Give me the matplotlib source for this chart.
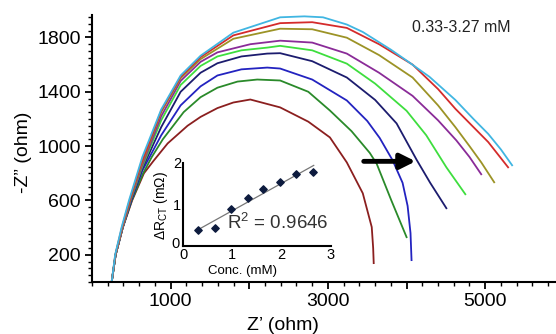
import numpy as np
import matplotlib
matplotlib.use('Agg')
import matplotlib.pyplot as plt
from matplotlib.ticker import MultipleLocator, FixedLocator

plt.rcParams['font.family'] = ['Liberation Sans', 'DejaVu Sans']

# Nyquist curves, lowest to highest concentration
colors = ['#8b1f1f', '#2a8a2a', '#2323c0', '#1c1c6e', '#3ede3e',
          '#8a2b98', '#9c9326', '#d42b2b', '#40b6e2']

zx1 = [250, 300, 390, 510, 660, 780, 962, 1215, 1380, 1595, 1797, 2013, 2392, 2750, 3025, 3240, 3443, 3557, 3575, 3582]
zy1 = [0, 200, 400, 600, 800, 890, 1020, 1150, 1215, 1280, 1321, 1343, 1285, 1180, 1064, 880, 653, 404, 250, 139]

zx2 = [250, 300, 390, 505, 650, 760, 900, 1165, 1380, 1595, 1850, 2101, 2392, 2750, 3025, 3300, 3532, 3620, 3805, 4000]
zy2 = [0, 200, 400, 600, 800, 920, 1050, 1250, 1360, 1430, 1475, 1490, 1483, 1400, 1262, 1110, 950, 870, 602, 330]

zx3 = [250, 300, 390, 500, 640, 880, 1127, 1380, 1595, 1900, 2228, 2392, 2800, 3240, 3500, 3658, 3823, 3949, 4013, 4050, 4063]
zy3 = [0, 200, 400, 600, 820, 1080, 1300, 1440, 1520, 1565, 1578, 1571, 1490, 1336, 1185, 1060, 895, 730, 560, 360, 161]

zx4 = [250, 300, 390, 495, 635, 880, 1127, 1380, 1595, 1900, 2228, 2392, 2800, 3240, 3600, 3873, 4127, 4300, 4506]
zy4 = [0, 200, 400, 600, 830, 1140, 1400, 1540, 1610, 1660, 1681, 1684, 1625, 1505, 1340, 1167, 900, 730, 543]

zx5 = [250, 300, 390, 490, 630, 880, 1127, 1380, 1595, 1900, 2228, 2392, 2800, 3240, 3600, 4000, 4250, 4506, 4747]
zy5 = [0, 200, 400, 600, 835, 1190, 1450, 1590, 1660, 1705, 1725, 1738, 1705, 1607, 1460, 1260, 1080, 844, 646]

zx6 = [250, 300, 390, 488, 625, 880, 1127, 1380, 1595, 2013, 2392, 2800, 3240, 3650, 4076, 4400, 4633, 4800, 4949]
zy6 = [0, 200, 400, 600, 840, 1220, 1480, 1620, 1690, 1750, 1776, 1762, 1681, 1540, 1370, 1190, 1042, 920, 793]

zx7 = [250, 298, 385, 483, 620, 880, 1127, 1380, 1797, 2392, 2800, 3240, 3650, 4076, 4400, 4620, 4800, 4950, 5114]
zy7 = [0, 200, 400, 600, 850, 1250, 1500, 1640, 1790, 1864, 1860, 1798, 1670, 1505, 1300, 1140, 1000, 880, 734]

zx8 = [250, 296, 380, 478, 615, 880, 1127, 1380, 1797, 2392, 2800, 3240, 3650, 4076, 4400, 4620, 4850, 5038, 5291]
zy8 = [0, 200, 400, 600, 855, 1260, 1510, 1655, 1815, 1905, 1912, 1870, 1750, 1600, 1420, 1275, 1140, 1030, 844]

zx9 = [250, 294, 375, 470, 640, 880, 1127, 1380, 1797, 2392, 2700, 2937, 3240, 3443, 3800, 4000, 4291, 4620, 4850, 5038, 5200, 5342]
zy9 = [0, 200, 400, 600, 920, 1270, 1520, 1665, 1835, 1948, 1955, 1948, 1895, 1840, 1710, 1630, 1510, 1340, 1200, 1090, 975, 859]

curves_x = [zx1, zx2, zx3, zx4, zx5, zx6, zx7, zx8, zx9]
curves_y = [zy1, zy2, zy3, zy4, zy5, zy6, zy7, zy8, zy9]

# inset: delta R_CT vs concentration
conc = [0.31, 0.65, 0.98, 1.31, 1.63, 1.96, 2.29, 2.63]
d_rct = [0.39, 0.44, 0.90, 1.15, 1.37, 1.54, 1.73, 1.78]

fig = plt.figure(figsize=(5.56, 3.34), dpi=100)
ax = fig.add_axes([0.1655, 0.1557, 0.8345, 0.7994])

for cx, cy, c in zip(curves_x, curves_y, colors):
    ax.plot(cx, cy, color=c, lw=1.3)

ax.set_xlim(0, 5900)
ax.set_ylim(0, 1965)
ax.spines['top'].set_visible(False)
ax.spines['right'].set_visible(False)
ax.spines['left'].set_linewidth(1.5)
ax.spines['bottom'].set_linewidth(1.5)

ax.xaxis.set_minor_locator(MultipleLocator(200))
ax.set_xticks([1000, 2000, 3000, 4000, 5000])
ax.set_xticklabels(['1000', '', '3000', '', '5000'])
ax.yaxis.set_major_locator(FixedLocator([200, 600, 1000, 1400, 1800]))
ax.yaxis.set_minor_locator(MultipleLocator(50))
ax.tick_params(axis='both', which='major', length=5, width=1.3, labelsize=14, pad=3)
ax.tick_params(axis='both', which='minor', length=3, width=1.0)

fig.text(283 / 556, 1 - 326 / 334, 'Z\u2019 (ohm)', fontsize=14, ha='center', va='center')
fig.text(23 / 556, 1 - 152 / 334, '-Z\u201d (ohm)', fontsize=14, ha='center', va='center', rotation=90)
fig.text(461 / 556, 1 - 27 / 334, '0.33-3.27 mM', fontsize=11.5, ha='center', va='center', color='#222222')

ax.annotate('', xy=(4150, 888), xytext=(3420, 888),
            arrowprops=dict(arrowstyle='-|>,head_length=0.9,head_width=0.45', color='black', lw=3.5))

# inset
ax2 = fig.add_axes([183 / 556, 1 - 246 / 334, 148 / 556, 83 / 334])
ax2.patch.set_alpha(0)
ax2.scatter(conc, d_rct, marker='D', s=14, color='#0d1b3e', zorder=3)
k, b = np.polyfit(conc, d_rct, 1)
xf = np.array([0.31, 2.65])
ax2.plot(xf, k * xf + b, color='#777777', lw=0.9)
ax2.set_xlim(0, 3)
ax2.set_ylim(0, 2)
ax2.set_xticks([0, 1, 2, 3])
ax2.set_yticks([0, 1, 2])
ax2.set_xticklabels(['0', '1', '2', '3'])
ax2.set_yticklabels(['', '1', '2'])
ax2.spines['top'].set_visible(False)
ax2.spines['right'].set_visible(False)
ax2.spines['left'].set_linewidth(1.5)
ax2.spines['bottom'].set_linewidth(1.5)
ax2.tick_params(axis='both', length=0, labelsize=10.5)
ax2.tick_params(axis='x', pad=1.5)
ax2.tick_params(axis='y', pad=1.5)
# the y "0" sits just left of the corner, as in the reference
fig.text(176 / 556, 1 - 244 / 334, '0', fontsize=10.5, ha='center', va='center')
fig.text(243 / 556, 1 - 271 / 334, 'Conc. (mM)', fontsize=9.5, ha='center', va='center')
fig.text(161 / 556, 1 - 206 / 334, '\u0394R$_{\\mathregular{CT}}$ (m\u03a9)', fontsize=10, ha='center', va='center', rotation=90)
fig.text(278 / 556, 1 - 223 / 334, 'R$^{\\mathregular{2}}$ = 0.9646', fontsize=13.5, ha='center', va='center', color='#333333')

fig.savefig('out.png', dpi=100)
